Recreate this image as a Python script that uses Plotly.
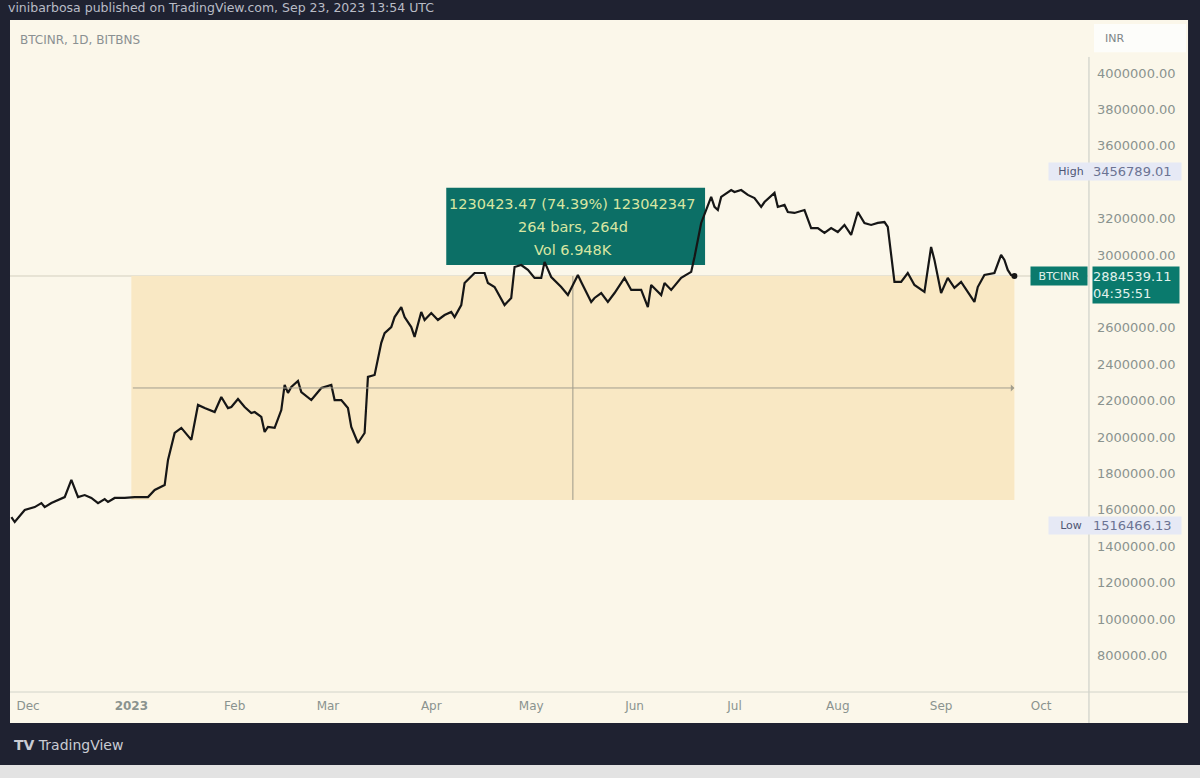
import plotly.graph_objects as go

# ---------------- data ----------------
dates = [
    "2022-11-26", "2022-11-27", "2022-11-30", "2022-12-03", "2022-12-05", "2022-12-06",
    "2022-12-08", "2022-12-10", "2022-12-12", "2022-12-14", "2022-12-16", "2022-12-18",
    "2022-12-20", "2022-12-22", "2022-12-24", "2022-12-25", "2022-12-27", "2022-12-30",
    "2023-01-02", "2023-01-06", "2023-01-08", "2023-01-11", "2023-01-12", "2023-01-14",
    "2023-01-16", "2023-01-19", "2023-01-21", "2023-01-23", "2023-01-26", "2023-01-28",
    "2023-01-30", "2023-01-31", "2023-02-02", "2023-02-04", "2023-02-06", "2023-02-07",
    "2023-02-09", "2023-02-10", "2023-02-11", "2023-02-13", "2023-02-15", "2023-02-16",
    "2023-02-17", "2023-02-18", "2023-02-20", "2023-02-21", "2023-02-24", "2023-02-26",
    "2023-02-27", "2023-03-02", "2023-03-03", "2023-03-05", "2023-03-07", "2023-03-08",
    "2023-03-10", "2023-03-12", "2023-03-13", "2023-03-15", "2023-03-17", "2023-03-18",
    "2023-03-20", "2023-03-21", "2023-03-23", "2023-03-24", "2023-03-26", "2023-03-27",
    "2023-03-29", "2023-03-30", "2023-04-01", "2023-04-03", "2023-04-05", "2023-04-07",
    "2023-04-08", "2023-04-10", "2023-04-11", "2023-04-14", "2023-04-17", "2023-04-18",
    "2023-04-20", "2023-04-23", "2023-04-25", "2023-04-26", "2023-04-28", "2023-04-30",
    "2023-05-02", "2023-05-04", "2023-05-05", "2023-05-07", "2023-05-10", "2023-05-12",
    "2023-05-15", "2023-05-16", "2023-05-19", "2023-05-20", "2023-05-22", "2023-05-24",
    "2023-05-26", "2023-05-29", "2023-05-31", "2023-06-03", "2023-06-05", "2023-06-06",
    "2023-06-09", "2023-06-10", "2023-06-12", "2023-06-15", "2023-06-18", "2023-06-19",
    "2023-06-21", "2023-06-24", "2023-06-25", "2023-06-26", "2023-06-27", "2023-06-30",
    "2023-07-01", "2023-07-03", "2023-07-05", "2023-07-07", "2023-07-09", "2023-07-10",
    "2023-07-13", "2023-07-14", "2023-07-16", "2023-07-17", "2023-07-19", "2023-07-22",
    "2023-07-24", "2023-07-26", "2023-07-28", "2023-07-30", "2023-08-01", "2023-08-03",
    "2023-08-05", "2023-08-07", "2023-08-09", "2023-08-11", "2023-08-13", "2023-08-15",
    "2023-08-16", "2023-08-18", "2023-08-20", "2023-08-22", "2023-08-24", "2023-08-27",
    "2023-08-29", "2023-08-30", "2023-09-01", "2023-09-03", "2023-09-05", "2023-09-07",
    "2023-09-09", "2023-09-11", "2023-09-12", "2023-09-14", "2023-09-17", "2023-09-19",
    "2023-09-20", "2023-09-21", "2023-09-22", "2023-09-23",
]
prices = [
    1560000, 1533000, 1599000, 1615000, 1637000, 1615000,
    1637000, 1654000, 1670000, 1764000, 1670000, 1681000,
    1665000, 1637000, 1659000, 1643000, 1665000, 1665000,
    1670000, 1670000, 1709000, 1736000, 1874000, 2022000,
    2050000, 1984000, 2176000, 2159000, 2137000, 2220000,
    2159000, 2165000, 2209000, 2165000, 2132000, 2137000,
    2110000, 2028000, 2055000, 2050000, 2148000, 2286000,
    2242000, 2275000, 2308000, 2247000, 2203000, 2247000,
    2269000, 2286000, 2203000, 2203000, 2159000, 2055000,
    1967000, 2022000, 2330000, 2341000, 2517000, 2571000,
    2604000, 2659000, 2714000, 2659000, 2604000, 2550000,
    2687000, 2643000, 2681000, 2643000, 2670000, 2687000,
    2659000, 2725000, 2846000, 2901000, 2901000, 2846000,
    2824000, 2725000, 2764000, 2934000, 2945000, 2918000,
    2874000, 2874000, 2962000, 2879000, 2824000, 2780000,
    2890000, 2852000, 2742000, 2764000, 2791000, 2742000,
    2791000, 2874000, 2808000, 2808000, 2714000, 2835000,
    2780000, 2846000, 2808000, 2874000, 2907000, 2989000,
    3176000, 3319000, 3264000, 3247000, 3319000, 3357000,
    3346000, 3357000, 3330000, 3313000, 3264000, 3291000,
    3341000, 3264000, 3275000, 3236000, 3231000, 3247000,
    3148000, 3148000, 3121000, 3148000, 3126000, 3165000,
    3110000, 3236000, 3176000, 3165000, 3176000, 3181000,
    3154000, 2852000, 2852000, 2901000, 2835000, 2797000,
    3044000, 2973000, 2791000, 2874000, 2819000, 2852000,
    2797000, 2742000, 2824000, 2890000, 2901000, 3000000,
    2973000, 2918000, 2890000, 2884539.11,
]

month_ticks = ["2022-12-01", "2023-01-01", "2023-02-01", "2023-03-01", "2023-04-01",
               "2023-05-01", "2023-06-01", "2023-07-01", "2023-08-01", "2023-09-01",
               "2023-10-01"]
month_labels = ["Dec", "<b>2023</b>", "Feb", "Mar", "Apr", "May", "Jun", "Jul", "Aug",
                "Sep", "Oct"]
# 3400000 and 2800000 are hidden behind the High / last-price labels in the reference
price_ticks = [800000, 1000000, 1200000, 1400000, 1600000, 1800000, 2000000, 2200000,
               2400000, 2600000, 3000000, 3200000, 3600000, 3800000, 4000000]
price_labels = [f"{v:.2f}" for v in price_ticks]

symbol = "BTCINR"
last_price = 2884539.11
countdown = "04:35:51"
high_price = 3456789.01
low_price = 1516466.13
measure_start = "2023-01-01"
measure_end = "2023-09-23"
measure_mid = "2023-05-13 12:00"
measure_change = 1230423.47
measure_lines = ["1230423.47 (74.39%) 123042347", "264 bars, 264d", "Vol 6.948K"]
header = "vinibarbosa published on TradingView.com, Sep 23, 2023 13:54 UTC"
chart_title = "BTCINR, 1D, BITBNS"

# ---------------- styling ----------------
FRAME = "#1f2231"
PANEL = "#fbf7ea"
RECT = "#f9e8c4"
TEAL = "#0c6f66"
LABEL_TEAL = "#0a7a6d"
TICK = "#8a938f"
FONT = "DejaVu Sans"

measure_low = last_price - measure_change
measure_midval = (measure_low + last_price) / 2

fig = go.Figure()
fig.add_trace(go.Scatter(x=dates, y=prices, mode="lines",
                         line=dict(color="#161616", width=2.2),
                         hoverinfo="skip", showlegend=False))
fig.add_trace(go.Scatter(x=[dates[-1]], y=[prices[-1]], mode="markers",
                         marker=dict(color="#161616", size=6),
                         hoverinfo="skip", showlegend=False))

shapes = [
    dict(type="rect", xref="paper", yref="paper", x0=0, x1=1.0928, y0=-0.0461, y1=1,
         fillcolor=PANEL, line=dict(width=0), layer="below"),
    dict(type="rect", xref="paper", yref="paper", x0=-0.01, x1=1.11, y0=-0.129, y1=-0.1086,
         fillcolor="#e3e3e3", line=dict(width=0), layer="below"),
    dict(type="rect", xref="x", yref="y", x0=measure_start, x1=measure_end,
         y0=measure_low, y1=last_price, fillcolor=RECT, line=dict(width=0), layer="below"),
    dict(type="line", xref="paper", yref="y", x0=0, x1=1, y0=last_price, y1=last_price,
         line=dict(color="#d3cfbf", width=1), layer="below"),
    dict(type="line", xref="x", yref="y", x0=measure_mid, x1=measure_mid,
         y0=measure_low, y1=last_price, line=dict(color="#9c9888", width=1), layer="below"),
    dict(type="rect", xref="x", yref="y", x0="2023-04-05 12:00", x1="2023-06-22 04:00",
         y0=2945000, y1=3369000, fillcolor=TEAL, line=dict(width=0), layer="below"),
    dict(type="rect", xref="paper", yref="paper", x0=1.0056, x1=1.0909, y0=0.952, y1=0.994,
         fillcolor="#fdfdfa", line=dict(width=0)),
    dict(type="line", xref="paper", yref="paper", x0=1.0009, x1=1.0009, y0=-0.0461, y1=0.945,
         line=dict(color="#c5c9c2", width=1)),
    dict(type="line", xref="paper", yref="paper", x0=0, x1=1.0928, y0=0, y1=0,
         line=dict(color="#d2d4ca", width=1)),
]

annotations = [
    dict(xref="paper", yref="paper", x=-0.004, y=1.0179, xanchor="left", yanchor="middle",
         text=header, showarrow=False, font=dict(family=FONT, size=12.5, color="#b9bcc6")),
    dict(xref="paper", yref="paper", x=0.0074, y=0.9702, xanchor="left", yanchor="middle",
         text=chart_title, showarrow=False, font=dict(family=FONT, size=12, color="#8a9092")),
    dict(xref="paper", yref="paper", x=1.0139, y=0.9732, xanchor="left", yanchor="middle",
         text="INR", showarrow=False, font=dict(family=FONT, size=11, color="#7d8587")),
    dict(xref="paper", yref="paper", x=0.0019, y=-0.0789, xanchor="left", yanchor="middle",
         text="<b>TV</b> TradingView", showarrow=False,
         font=dict(family=FONT, size=14, color="#c9ccd3")),
    dict(xref="x", yref="y", x=measure_end, y=measure_midval, ax=measure_start,
         ay=measure_midval, axref="x", ayref="y", showarrow=True, text="",
         arrowhead=1, arrowsize=1.2, arrowwidth=1, arrowcolor="#a29e8e"),
]
for txt, yv in zip(measure_lines, [3280000, 3154000, 3027500]):
    annotations.append(dict(xref="x", yref="y", x=measure_mid, y=yv, text=txt,
                            showarrow=False, xanchor="center", yanchor="middle",
                            font=dict(family=FONT, size=14.5, color="#d8e6a2")))

for name, val in [("High", high_price), ("Low", low_price)]:
    annotations.append(dict(xref="paper", yref="y", x=0.9629, y=val, xanchor="left",
                            yanchor="middle", text=name, showarrow=False, width=44, height=17,
                            align="center", bgcolor="#e6e9f5", borderpad=0,
                            font=dict(family=FONT, size=11, color="#4e5573")))
    annotations.append(dict(xref="paper", yref="y", x=1.0037, y=val, xanchor="left",
                            yanchor="middle", text=f"{val:.2f}", showarrow=False, width=88,
                            height=17, align="left", bgcolor="#e6e9f5", borderpad=0,
                            font=dict(family=FONT, size=13, color="#6b7393")))

annotations.append(dict(xref="paper", yref="y", x=0.9462, y=last_price, xanchor="left",
                        yanchor="middle", text=symbol, showarrow=False, width=56, height=18,
                        align="center", bgcolor=LABEL_TEAL, borderpad=0,
                        font=dict(family=FONT, size=11, color="#e2f2ec")))
annotations.append(dict(xref="paper", yref="y", x=1.0037, y=last_price, xanchor="left",
                        yanchor="top", yshift=10, text=f"{last_price:.2f}<br>{countdown}",
                        showarrow=False, width=86, height=36, align="left",
                        bgcolor=LABEL_TEAL, borderpad=0,
                        font=dict(family=FONT, size=13, color="#e2f2ec")))

fig.update_layout(
    width=1200, height=778,
    margin=dict(l=10, r=112, t=20, b=86),
    paper_bgcolor=FRAME, plot_bgcolor=PANEL,
    shapes=shapes, annotations=annotations,
    showlegend=False,
    xaxis=dict(type="date", range=["2022-11-25 14:00", "2023-10-15 02:00"],
               tickvals=month_ticks, ticktext=month_labels, showgrid=False, zeroline=False,
               showline=False, ticks="", ticklabelstandoff=5,
               tickfont=dict(family=FONT, size=12, color=TICK)),
    yaxis=dict(side="right", range=[599000, 4291000], tickvals=price_ticks,
               ticktext=price_labels, showgrid=False, zeroline=False, showline=False,
               ticks="", ticklabelstandoff=8,
               tickfont=dict(family=FONT, size=13, color=TICK)),
)

fig.write_html("out.html", config={"displayModeBar": False},
               post_script="document.body.style.margin='0';"
                           "document.body.style.background='#1f2231';")
